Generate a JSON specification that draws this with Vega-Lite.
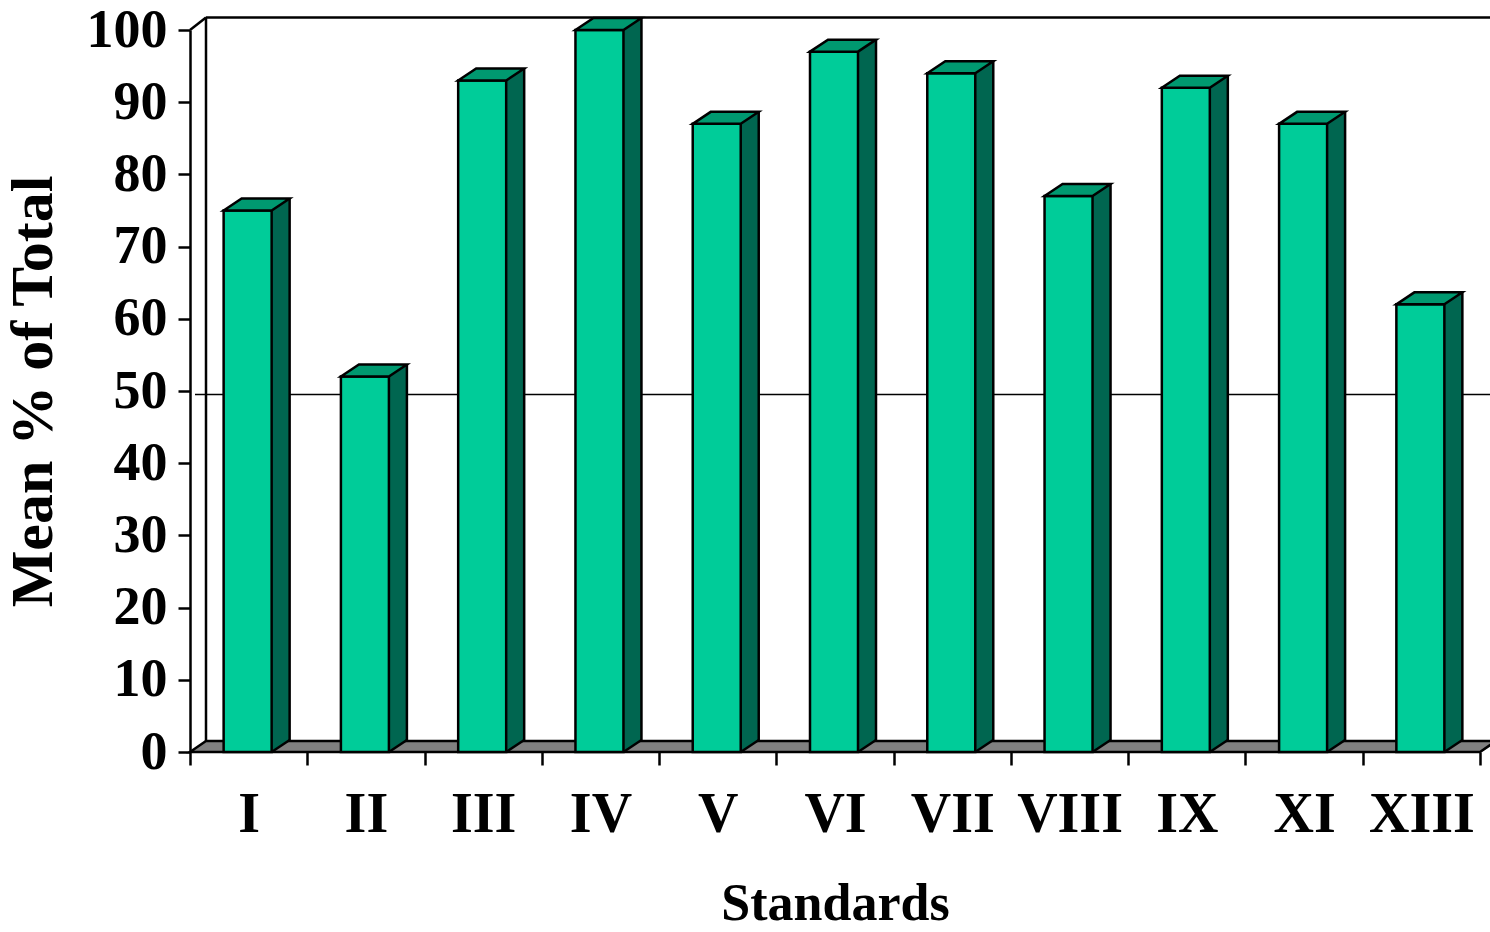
{
  "$schema": "https://vega.github.io/schema/vega-lite/v6.json",
  "width": 1290,
  "height": 722,
  "autosize": "none",
  "padding": {"left": 190, "top": 30, "right": 10, "bottom": 180},
  "background": "white",
  "config": {
    "view": {"stroke": null},
    "font": "Liberation Serif",
    "axis": {"grid": false},
    "axisY": {"tickCount": 10, "domainColor": "black", "domainWidth": 2.5, "tickColor": "black", "tickWidth": 2.5, "tickSize": 12,
      "labelFont": "Liberation Serif", "labelFontSize": 54, "labelFontWeight": "bold", "labelColor": "black", "labelPadding": 11,
      "titleFont": "Liberation Serif", "titleFontSize": 60, "titleFontWeight": "bold", "titleColor": "black", "titlePadding": 22}
  },
  "data": {"values": [
    {"standard": "I", "value": 75},
    {"standard": "II", "value": 52},
    {"standard": "III", "value": 93},
    {"standard": "IV", "value": 100},
    {"standard": "V", "value": 87},
    {"standard": "VI", "value": 97},
    {"standard": "VII", "value": 94},
    {"standard": "VIII", "value": 77},
    {"standard": "IX", "value": 92},
    {"standard": "XI", "value": 87},
    {"standard": "XIII", "value": 62}
  ]},
  "resolve": {"scale": {"x": "independent"}, "axis": {"x": "independent"}},
  "layer": [
    {
      "data": {"values": [{}]},
      "mark": {"type": "rule", "color": "black", "strokeWidth": 2.5, "x2Offset": 16, "y2Offset": -12.5},
      "encoding": {
        "x": {"datum": 0, "type": "quantitative", "scale": {"domain": [0, 1], "nice": false, "zero": false}, "axis": null},
        "x2": {"datum": 0},
        "y": {"datum": 100, "type": "quantitative", "title": "Mean % of Total"},
        "y2": {"datum": 100}
      }
    },
    {
      "data": {"values": [{}]},
      "mark": {"type": "rule", "color": "black", "strokeWidth": 2.5, "xOffset": 16, "x2Offset": 20, "yOffset": -12.5},
      "encoding": {
        "x": {"datum": 0, "type": "quantitative", "scale": {"domain": [0, 1], "nice": false, "zero": false}, "axis": null},
        "x2": {"datum": 1},
        "y": {"datum": 100, "type": "quantitative", "title": "Mean % of Total"}
      }
    },
    {
      "data": {"values": [{}]},
      "mark": {"type": "rule", "color": "black", "strokeWidth": 2.5, "xOffset": 16, "yOffset": -12.5, "y2Offset": -11},
      "encoding": {
        "x": {"datum": 0, "type": "quantitative", "scale": {"domain": [0, 1], "nice": false, "zero": false}, "axis": null},
        "y": {"datum": 100, "type": "quantitative", "title": "Mean % of Total"},
        "y2": {"datum": 0}
      }
    },
    {
      "data": {"values": [{}]},
      "mark": {"type": "rule", "color": "black", "strokeWidth": 1.5, "xOffset": 5, "x2Offset": 20},
      "encoding": {
        "x": {"datum": 0, "type": "quantitative", "scale": {"domain": [0, 1], "nice": false, "zero": false}, "axis": null},
        "x2": {"datum": 1},
        "y": {"datum": 49.5, "type": "quantitative", "title": "Mean % of Total"}
      }
    },
    {
      "data": {"values": [{}]},
      "mark": {"type": "point", "shape": "M -1 0.008423 L -0.975498 -0.008423 L 1 -0.008423 L 0.975498 0.008423 Z", "size": 1705636, "filled": true, "fill": "#808080", "stroke": "black", "strokeWidth": 2.5, "opacity": 1, "xOffset": 8, "yOffset": -5.5},
      "encoding": {
        "x": {"datum": 0.5, "type": "quantitative", "scale": {"domain": [0, 1], "nice": false, "zero": false}, "axis": null},
        "y": {"datum": 0, "type": "quantitative", "title": "Mean % of Total"}
      }
    },
    {
      "mark": {"type": "bar", "width": 18, "xOffset": 32, "yOffset": -12, "y2Offset": -12, "fill": "#006650", "stroke": null},
      "encoding": {
        "x": {"field": "standard", "type": "nominal", "sort": null, "scale": {"type": "band", "paddingInner": 0, "paddingOuter": 0}, "axis": null},
        "y": {"field": "value", "type": "quantitative", "title": "Mean % of Total"},
        "y2": {"datum": 0}
      }
    },
    {
      "mark": {"type": "point", "shape": "M -1 -0.6667 L 1 -0.6667 L -1 0.6667 Z", "size": 324, "filled": true, "fill": "#006650", "strokeWidth": 0, "opacity": 1, "xOffset": 32, "yOffset": -6},
      "encoding": {
        "x": {"field": "standard", "type": "nominal", "sort": null, "bandPosition": 0.5, "scale": {"type": "band", "paddingInner": 0, "paddingOuter": 0}, "axis": null},
        "y": {"datum": 0, "type": "quantitative", "title": "Mean % of Total"}
      }
    },
    {
      "mark": {"type": "rule", "color": "black", "strokeWidth": 2.5, "xOffset": 41, "yOffset": -12, "y2Offset": -12},
      "encoding": {
        "x": {"field": "standard", "type": "nominal", "sort": null, "bandPosition": 0.5, "scale": {"type": "band", "paddingInner": 0, "paddingOuter": 0}, "axis": null},
        "y": {"field": "value", "type": "quantitative", "title": "Mean % of Total"},
        "y2": {"datum": 0}
      }
    },
    {
      "mark": {"type": "point", "shape": "M -1 0.6667 L 1 -0.6667", "size": 324, "filled": false, "stroke": "black", "strokeWidth": 2.5, "opacity": 1, "xOffset": 32, "yOffset": -6},
      "encoding": {
        "x": {"field": "standard", "type": "nominal", "sort": null, "bandPosition": 0.5, "scale": {"type": "band", "paddingInner": 0, "paddingOuter": 0}, "axis": null},
        "y": {"datum": 0, "type": "quantitative", "title": "Mean % of Total"}
      }
    },
    {
      "mark": {"type": "bar", "width": 48, "xOffset": -1, "fill": "#00CC99", "stroke": "black", "strokeWidth": 2.5},
      "encoding": {
        "x": {"field": "standard", "type": "nominal", "sort": null,
          "scale": {"type": "band", "paddingInner": 0, "paddingOuter": 0},
          "axis": {"title": "Standards", "domain": false, "tickBand": "extent", "tickSize": 13, "tickWidth": 2.5, "tickColor": "black", "labelAngle": 0,
            "labelFont": "Liberation Serif", "labelFontSize": 56, "labelFontWeight": "bold", "labelColor": "black", "labelPadding": 22,
            "titleFont": "Liberation Serif", "titleFontSize": 52, "titleFontWeight": "bold", "titleColor": "black", "titlePadding": 36}},
        "y": {"field": "value", "type": "quantitative", "title": "Mean % of Total",
          "scale": {"domain": [0, 100], "nice": false, "zero": true}}
      }
    },
    {
      "mark": {"type": "point", "shape": "M -1 0.1818 L -0.4545 -0.1818 L 1 -0.1818 L 0.4545 0.1818 Z", "size": 4356, "filled": true, "fill": "#009970", "stroke": "black", "strokeWidth": 2.5, "opacity": 1, "xOffset": 8, "yOffset": -6},
      "encoding": {
        "x": {"field": "standard", "type": "nominal", "sort": null, "bandPosition": 0.5, "scale": {"type": "band", "paddingInner": 0, "paddingOuter": 0}, "axis": null},
        "y": {"field": "value", "type": "quantitative", "title": "Mean % of Total"}
      }
    }
  ]
}
